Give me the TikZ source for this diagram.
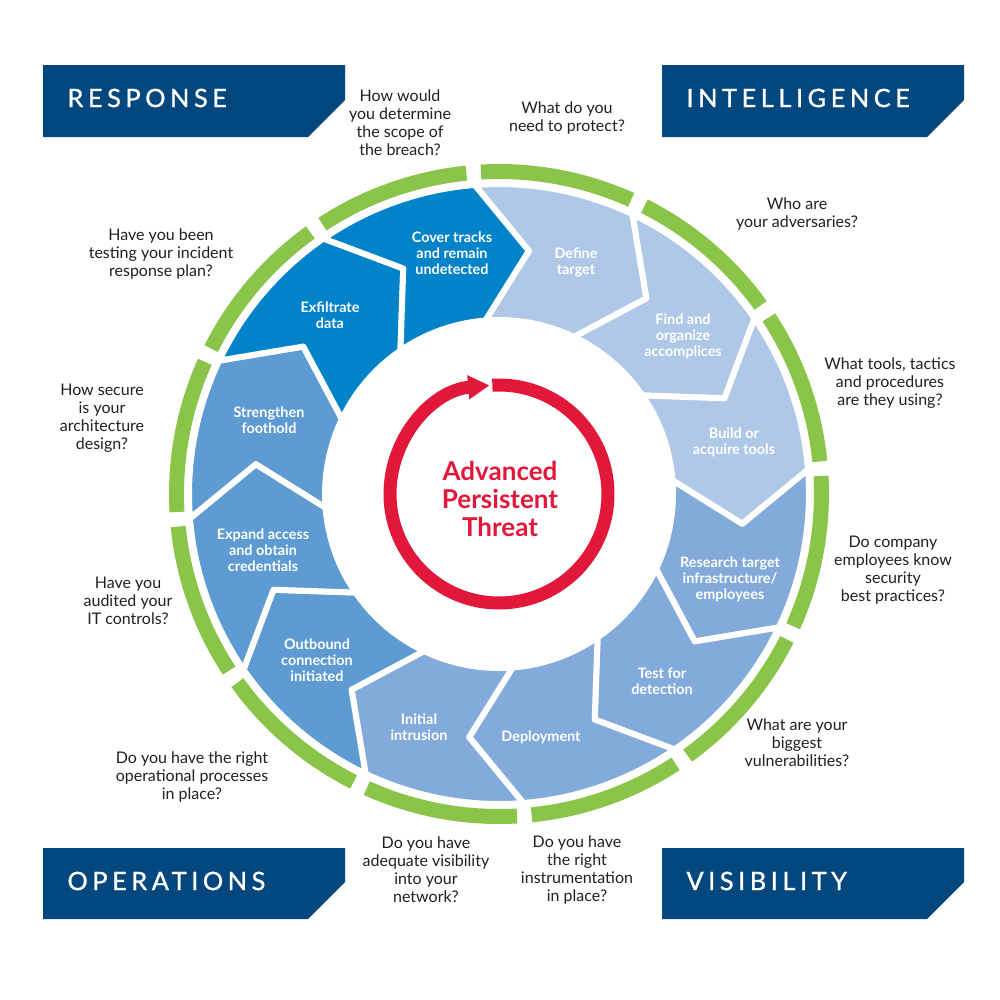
\documentclass[tikz,border=0pt]{standalone}
\usepackage{fontspec}
\setmainfont{Lato}
\usetikzlibrary{arrows.meta}

\definecolor{bannerblue}{HTML}{03477F}
\definecolor{stepdark}{HTML}{0083C9}
\definecolor{stepmid}{HTML}{5E9BD3}
\definecolor{steplight}{HTML}{82ABDC}
\definecolor{steppale}{HTML}{AFC8E8}
\definecolor{ringgreen}{HTML}{8AC449}
\definecolor{aptred}{HTML}{E2183A}
\definecolor{qgray}{HTML}{231F20}

\tikzset{every picture/.style={line width=0.75pt}}
\tikzset{
  question/.style={align=center, inner sep=0.75pt, text=qgray, font=\fontsize{12}{13.5}\selectfont},
  steplabel/.style={align=center, inner sep=0.75pt, text=white, font=\bfseries\fontsize{10.8}{12}\selectfont},
  bannertext/.style={anchor=west, inner sep=0pt, text=white, font=\fontsize{19}{20}\selectfont\addfontfeatures{LetterSpace=18, FakeBold=1}},
  bannerbox/.style={fill=bannerblue},
  stepcell/.style={draw=white, line width=4.5pt, line join=round},
  greenarc/.style={draw=ringgreen, line width=11.25pt},
}

\begin{document}
\begin{tikzpicture}[x=0.75pt,y=0.75pt,yscale=-1,xscale=1]

\useasboundingbox (0,0) rectangle (1000,1000);
\fill [white] (0,0) rectangle (1000,1000);

%banners
\fill [bannerbox] (43,65) -- (345,65) -- (345,100) -- (308,137) -- (43,137) -- cycle ;
\fill [bannerbox] (662,65) -- (964,65) -- (964,100) -- (927,137) -- (662,137) -- cycle ;
\fill [bannerbox] (43,848) -- (345,848) -- (345,882) -- (308,919) -- (43,919) -- cycle ;
\fill [bannerbox] (662,848) -- (964,848) -- (964,882) -- (927,919) -- (662,919) -- cycle ;

\node (bresponse) at (67,98) [bannertext] {RESPONSE};
\node (bintel) at (686,98) [bannertext] {INTELLIGENCE};
\node (bops) at (67,881) [bannertext] {OPERATIONS};
\node (bvis) at (686,881) [bannertext] {VISIBILITY};

%wheel
\begin{scope}[shift={(499,494)}]

  %steps
  \draw [stepcell, fill=steppale] (-94.5:310) arc[start angle=-94.5, end angle=-64.5, radius=310] -- (-53:245) -- (-64.5:174) arc[start angle=-64.5, end angle=-94.5, radius=174] -- (-83:245) -- cycle ;
  \draw [stepcell, fill=steppale] (-64.5:310) arc[start angle=-64.5, end angle=-34.5, radius=310] -- (-23:245) -- (-34.5:174) arc[start angle=-34.5, end angle=-64.5, radius=174] -- (-53:245) -- cycle ;
  \draw [stepcell, fill=steppale] (-34.5:310) arc[start angle=-34.5, end angle=-4.5, radius=310] -- (7:245) -- (-4.5:174) arc[start angle=-4.5, end angle=-34.5, radius=174] -- (-23:245) -- cycle ;
  \draw [stepcell, fill=steplight] (-4.5:310) arc[start angle=-4.5, end angle=25.5, radius=310] -- (37:245) -- (25.5:174) arc[start angle=25.5, end angle=-4.5, radius=174] -- (7:245) -- cycle ;
  \draw [stepcell, fill=steplight] (25.5:310) arc[start angle=25.5, end angle=55.5, radius=310] -- (67:245) -- (55.5:174) arc[start angle=55.5, end angle=25.5, radius=174] -- (37:245) -- cycle ;
  \draw [stepcell, fill=steplight] (55.5:310) arc[start angle=55.5, end angle=85.5, radius=310] -- (97:245) -- (85.5:174) arc[start angle=85.5, end angle=55.5, radius=174] -- (67:245) -- cycle ;
  \draw [stepcell, fill=steplight] (85.5:310) arc[start angle=85.5, end angle=115.5, radius=310] -- (127:245) -- (115.5:174) arc[start angle=115.5, end angle=85.5, radius=174] -- (97:245) -- cycle ;
  \draw [stepcell, fill=stepmid] (115.5:310) arc[start angle=115.5, end angle=145.5, radius=310] -- (157:245) -- (145.5:174) arc[start angle=145.5, end angle=115.5, radius=174] -- (127:245) -- cycle ;
  \draw [stepcell, fill=stepmid] (145.5:310) arc[start angle=145.5, end angle=175.5, radius=310] -- (187:245) -- (175.5:174) arc[start angle=175.5, end angle=145.5, radius=174] -- (157:245) -- cycle ;
  \draw [stepcell, fill=stepmid] (175.5:310) arc[start angle=175.5, end angle=205.5, radius=310] -- (217:245) -- (205.5:174) arc[start angle=205.5, end angle=175.5, radius=174] -- (187:245) -- cycle ;
  \draw [stepcell, fill=stepdark] (205.5:310) arc[start angle=205.5, end angle=235.5, radius=310] -- (247:245) -- (235.5:174) arc[start angle=235.5, end angle=205.5, radius=174] -- (217:245) -- cycle ;
  \draw [stepcell, fill=stepdark] (235.5:310) arc[start angle=235.5, end angle=265.5, radius=310] -- (277:245) -- (265.5:174) arc[start angle=265.5, end angle=235.5, radius=174] -- (247:245) -- cycle ;

  %green ring
  \draw [greenarc] (-93.2:322.5) arc[start angle=-93.2, end angle=-65.8, radius=322.5] ;
  \draw [greenarc] (-63.2:322.5) arc[start angle=-63.2, end angle=-35.8, radius=322.5] ;
  \draw [greenarc] (-33.2:322.5) arc[start angle=-33.2, end angle=-5.8, radius=322.5] ;
  \draw [greenarc] (-3.2:322.5) arc[start angle=-3.2, end angle=24.2, radius=322.5] ;
  \draw [greenarc] (26.8:322.5) arc[start angle=26.8, end angle=54.2, radius=322.5] ;
  \draw [greenarc] (56.8:322.5) arc[start angle=56.8, end angle=84.2, radius=322.5] ;
  \draw [greenarc] (86.8:322.5) arc[start angle=86.8, end angle=114.2, radius=322.5] ;
  \draw [greenarc] (116.8:322.5) arc[start angle=116.8, end angle=144.2, radius=322.5] ;
  \draw [greenarc] (146.8:322.5) arc[start angle=146.8, end angle=174.2, radius=322.5] ;
  \draw [greenarc] (176.8:322.5) arc[start angle=176.8, end angle=204.2, radius=322.5] ;
  \draw [greenarc] (206.8:322.5) arc[start angle=206.8, end angle=234.2, radius=322.5] ;
  \draw [greenarc] (236.8:322.5) arc[start angle=236.8, end angle=264.2, radius=322.5] ;

  %red cycle arrow
  \draw [aptred, line width=9.75pt, -{Triangle[length=16pt, width=17pt]}] (-93.5:109) arc[start angle=-93.5, end angle=265, radius=109] ;

\end{scope}

%step labels
\node (ldefine) at (576,262) [steplabel] {Define\\target};
\node (lfind) at (683,336) [steplabel] {Find and\\organize\\accomplices};
\node (lbuild) at (734,442) [steplabel] {Build or\\acquire tools};
\node (lresearch) at (730,579) [steplabel] {Research target\\infrastructure/\\employees};
\node (ltest) at (662,681) [steplabel] {Test for\\detection};
\node (ldeploy) at (541,737) [steplabel] {Deployment};
\node (lintrude) at (419,727) [steplabel] {Initial\\intrusion};
\node (loutbound) at (317,660) [steplabel] {Outbound\\connection\\initiated};
\node (lexpand) at (263,550) [steplabel] {Expand access\\and obtain\\credentials};
\node (lstrength) at (269,420) [steplabel] {Strengthen\\foothold};
\node (lexfil) at (330,315) [steplabel] {Exfiltrate\\data};
\node (lcover) at (452,253) [steplabel] {Cover tracks\\and remain\\undetected};

\node (tcenter) at (500,499) [align=center, inner sep=0.75pt, text=aptred, font=\bfseries\fontsize{19.5}{21}\selectfont] {Advanced\\Persistent\\Threat};

%questions
\node (qscope) at (400,123) [question] {How would\\you determine\\the scope of\\the breach?};
\node (qprotect) at (567,118) [question] {What do you\\need to protect?};
\node (qadvers) at (797,214) [question] {Who are\\your adversaries?};
\node (qtools) at (890,383) [question] {What tools, tactics\\and procedures\\are they using?};
\node (qstaff) at (893,570) [question] {Do company\\employees know\\security\\best practices?};
\node (qvuln) at (797,743) [question] {What are your\\biggest\\vulnerabilities?};
\node (qinstr) at (577,870) [question] {Do you have\\the right\\instrumentation\\in place?};
\node (qnetwork) at (426,870) [question] {Do you have\\adequate visibility\\into your\\network?};
\node (qprocess) at (192,777) [question] {Do you have the right\\operational processes\\in place?};
\node (qaudit) at (128,601) [question] {Have you\\audited your\\IT controls?};
\node (qarch) at (102,418) [question] {How secure\\is your\\architecture\\design?};
\node (qplan) at (161,254) [question] {Have you been\\testing your incident\\response plan?};

\end{tikzpicture}
\end{document}
